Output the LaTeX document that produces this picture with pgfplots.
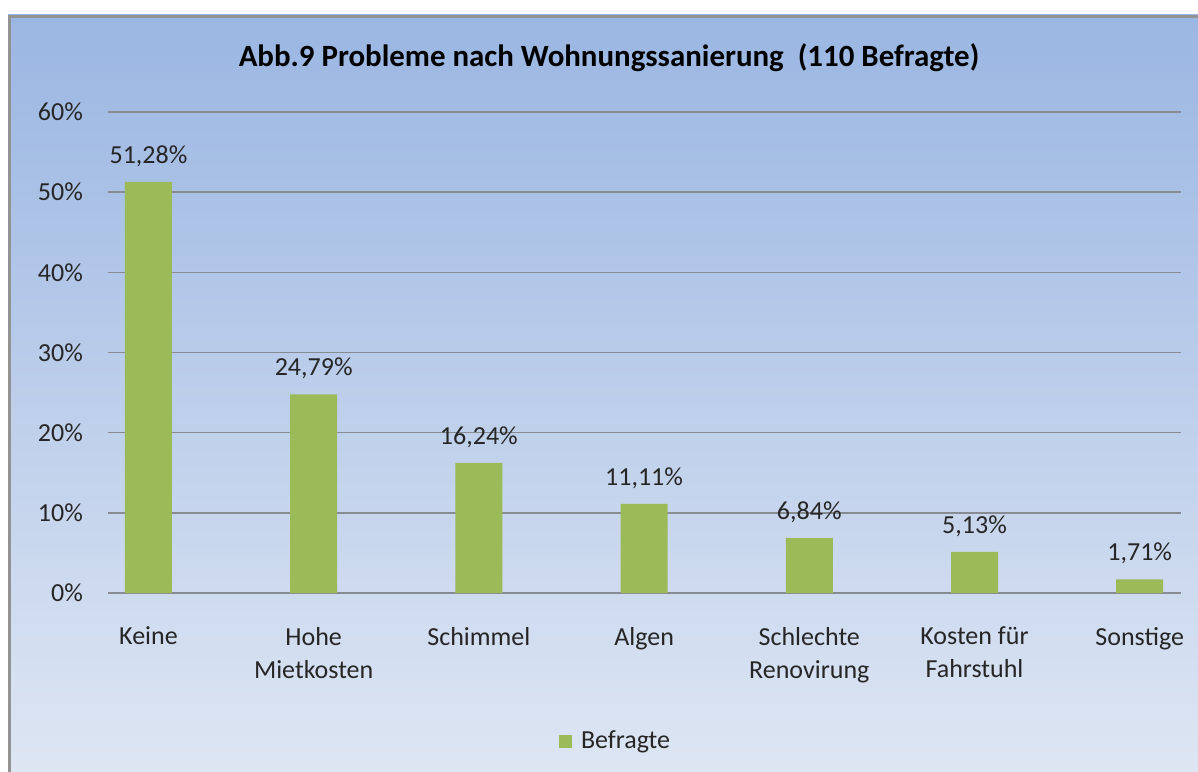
\documentclass[border=0pt]{standalone}
\usepackage{fontspec}
\setmainfont{Carlito}
\usepackage{pgfplots}
\pgfplotsset{compat=1.18}

\definecolor{barG}{HTML}{9BBB59}
\definecolor{bgTop}{HTML}{9AB6E2}
\definecolor{bgBot}{HTML}{DEE6F3}
\definecolor{gridG}{HTML}{878B92}
\definecolor{txt}{HTML}{262626}

\pgfplotstableread{
x y
0 51.28
1 24.79
2 16.24
3 11.11
4 6.84
5 5.13
6 1.71
}\befragte

\begin{document}
\begin{tikzpicture}
\useasboundingbox (0,0) rectangle (599pt,385.5pt);
\clip (0,0) rectangle (599pt,385.5pt);
\fill[white] (0,0) rectangle (599pt,385.5pt);
\shade[top color=bgTop, bottom color=bgBot] (4pt,-2pt) rectangle (602pt,378pt);
\draw[gray!85, line width=1.5pt] (4.75pt,-2pt) -- (4.75pt,377.25pt) -- (602pt,377.25pt);
\node[font=\bfseries\fontsize{15.45}{18}\selectfont, text=black] at (304.5pt,356.5pt)
  {Abb.9 Probleme nach Wohnungssanierung\ \ (110 Befragte)};

\begin{axis}[
    at={(54pt,89pt)}, anchor=south west,
    scale only axis, width=536.5pt, height=240.5pt,
    xmin=-0.245, xmax=6.25, ymin=0, ymax=60,
    axis line style={draw=none},
    major tick length=0pt,
    ymajorgrids, grid style={gridG, line width=0.75pt},
    ytick={0,10,...,60},
    yticklabels={0\%,10\%,20\%,30\%,40\%,50\%,60\%},
    xtick={0,...,6},
    xticklabels={Keine, Hohe\\Mietkosten, Schimmel, Algen, Schlechte\\Renovirung, Kosten für\\Fahrstuhl, Sonstige},
    tick label style={font=\fontsize{13}{16.5}\selectfont, text=txt},
    x tick label style={align=center, anchor=north, yshift=-13.5pt},
    y tick label style={anchor=east, xshift=-9pt},
    ybar, bar width=23.5pt,
    nodes near coords={\pgfmathprintnumber[fixed,fixed zerofill,precision=2,use comma,assume math mode=true]{\pgfplotspointmeta}\%},
    nodes near coords style={anchor=center, yshift=13pt, font=\fontsize{13}{15}\selectfont, text=txt},
    legend style={at={(axis description cs:0.4739,-0.3077)}, anchor=center, draw=none, fill=none,
        font=\fontsize{13}{15}\selectfont, text=txt},
    legend image code/.code={\fill[barG] (0pt,-3.25pt) rectangle (6.5pt,3.25pt);},
]
\addplot[fill=barG, draw=none] table[x=x, y=y] {\befragte};
\addlegendentry{\hspace{2.5pt}Befragte}
\end{axis}
\end{tikzpicture}
\end{document}
